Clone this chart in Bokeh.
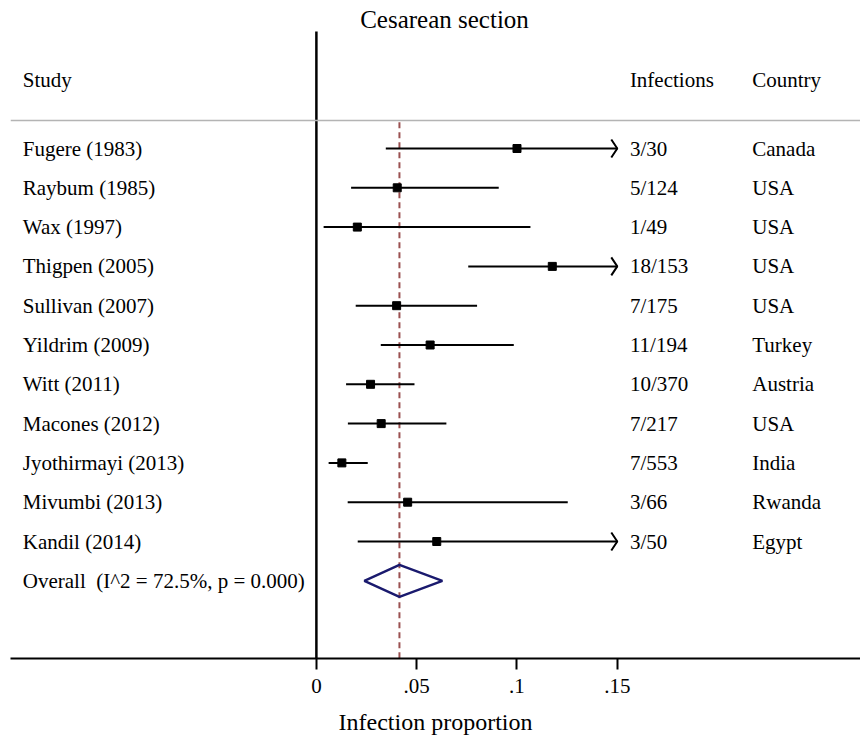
from bokeh.plotting import figure
from bokeh.models import Range1d, FixedTicker, Span, ColumnDataSource
from bokeh.core.properties import value
from bokeh.embed import file_html
from bokeh.resources import INLINE

# ---------------- data ----------------
studies = ["Fugere (1983)", "Raybum (1985)", "Wax (1997)", "Thigpen (2005)",
           "Sullivan (2007)", "Yildrim (2009)", "Witt (2011)", "Macones (2012)",
           "Jyothirmayi (2013)", "Mivumbi (2013)", "Kandil (2014)"]
infections = ["3/30", "5/124", "1/49", "18/153", "7/175", "11/194", "10/370",
              "7/217", "7/553", "3/66", "3/50"]
countries = ["Canada", "USA", "USA", "USA", "USA", "Turkey", "Austria", "USA",
             "India", "Rwanda", "Egypt"]
est = [0.100, 0.0403, 0.0204, 0.1176, 0.0400, 0.0567, 0.0270, 0.0323, 0.0127, 0.0455, 0.0600]
lower = [0.0346, 0.0173, 0.0036, 0.0757, 0.0196, 0.0321, 0.0148, 0.0157, 0.0061, 0.0156, 0.0206]
upper = [0.2562, 0.0909, 0.1067, 0.1783, 0.0801, 0.0984, 0.0489, 0.0648, 0.0256, 0.1253, 0.1622]
overall_label = "Overall\u00a0\u00a0(I^2 = 72.5%, p = 0.000)"
overall_est, overall_lo, overall_hi = 0.0414, 0.0239, 0.0628
ticks = [0, 0.05, 0.1, 0.15]
tick_labels = ["0", ".05", ".1", ".15"]
headers = ["Study", "Infections", "Country"]
title_text = "Cesarean section"
x_label = "Infection proportion"

# ---------------- layout constants ----------------
FONT = "Liberation Serif"
X_MAX = 0.15                 # display clip of the axis
PX_PER_X = 2006.7            # pixels per unit of proportion
PX_PER_ROW = 39.3
x_start = -306.0 / PX_PER_X
x_end = 544.3 / PX_PER_X
y_top = -148.0 / PX_PER_ROW
y_bottom = 510.0 / PX_PER_ROW
col_study = -293.7 / PX_PER_X
col_inf = 313.6 / PX_PER_X
col_country = 436.0 / PX_PER_X
header_row = -1.75
title_row = -3.28
rule_row = -0.7125
zero_top_row = -2.98
dash_top_row = -0.67

rows = list(range(len(studies)))
overall_row = len(studies)

p = figure(width=860, height=738, output_backend="svg", toolbar_location=None,
           x_range=Range1d(x_start, x_end), y_range=Range1d(y_bottom, y_top),
           y_axis_location=None, min_border_left=10, min_border_right=0,
           min_border_top=0, min_border_bottom=80)
p.xgrid.visible = False
p.ygrid.visible = False
p.outline_line_color = None
p.background_fill_color = "white"
p.border_fill_color = "white"

ax = p.xaxis[0]
ax.ticker = FixedTicker(ticks=ticks)
ax.major_label_overrides = {t: l for t, l in zip(ticks, tick_labels)}
ax.axis_label = x_label
ax.axis_label_text_font = FONT
ax.axis_label_text_font_size = "24px"
ax.axis_label_text_font_style = "normal"
ax.axis_label_text_color = "black"
ax.axis_label_standoff = 13
ax.major_label_text_font = FONT
ax.major_label_text_font_size = "21px"
ax.major_label_text_color = "black"
ax.major_label_standoff = 9
ax.major_tick_in = 0
ax.major_tick_out = 11
ax.major_tick_line_width = 2
ax.major_tick_line_color = "black"
ax.minor_tick_line_color = None
ax.axis_line_width = 2
ax.axis_line_color = "black"

# grey header rule
p.add_layout(Span(location=rule_row, dimension="width", line_color="#b4b4b4", line_width=1.5))

# zero line
p.segment(x0=[0], y0=[zero_top_row], x1=[0], y1=[y_bottom], line_color="black", line_width=2.5)

# overall dashed line
p.segment(x0=[overall_est], y0=[dash_top_row], x1=[overall_est], y1=[y_bottom],
          line_color="#9a5050", line_width=2, line_dash="6 4")

# confidence intervals (clipped at axis max)
clip_hi = [min(u, X_MAX) for u in upper]
src = ColumnDataSource(dict(row=rows, est=est, lo=lower, hi=clip_hi,
                            study=studies, inf=infections, country=countries))
p.segment(x0="lo", y0="row", x1="hi", y1="row", source=src, line_color="black", line_width=2)
p.scatter(x="est", y="row", source=src, marker="square", size=8, color="black")

# open arrow heads where the interval runs past the axis
head_len = 6.0 / PX_PER_X
head_half = 9.0 / PX_PER_ROW
ax_x, ax_y = [], []
for r, u in zip(rows, upper):
    if u > X_MAX:
        ax_x.append([X_MAX - head_len, X_MAX, X_MAX - head_len])
        ax_y.append([r - head_half, r, r + head_half])
p.multi_line(xs=ax_x, ys=ax_y, line_color="black", line_width=2)

# overall diamond
dh = 16.0 / PX_PER_ROW
p.patch(x=[overall_lo, overall_est, overall_hi, overall_est, overall_lo],
        y=[overall_row, overall_row - dh, overall_row, overall_row + dh, overall_row],
        fill_color=None, line_color="#1a1a6e", line_width=2.4)

# text columns
common = dict(text_font=value(FONT), text_font_size="21px", text_color="black",
              text_baseline="middle", text_align="left")
p.text(x=col_study, y="row", text="study", source=src, **common)
p.text(x=col_inf, y="row", text="inf", source=src, **common)
p.text(x=col_country, y="row", text="country", source=src, **common)
p.text(x=[col_study], y=[overall_row], text=[overall_label], **common)
p.text(x=[col_study, col_inf, col_country], y=[header_row] * 3, text=headers, **common)

# title
p.text(x=[(x_start + x_end) / 2 + (444 - 435) / PX_PER_X], y=[title_row], text=[title_text],
       text_font=value(FONT), text_font_size="25px", text_color="black",
       text_baseline="middle", text_align="center")

open("out.html", "w").write(file_html(p, INLINE))
